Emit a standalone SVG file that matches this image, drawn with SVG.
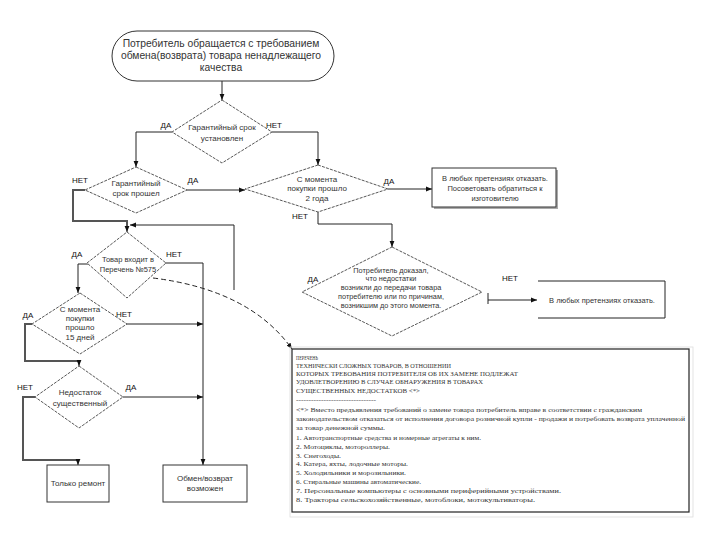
<svg xmlns="http://www.w3.org/2000/svg" width="720" height="540" viewBox="0 0 720 540">
<defs>
<marker id="ah" viewBox="0 0 10 10" refX="10" refY="5" markerWidth="6" markerHeight="6" markerUnits="userSpaceOnUse" orient="auto"><path d="M0,1 L10,5 L0,9 z" fill="#111"/></marker>
<style>
.t{font-family:"Liberation Sans",Arial,sans-serif;font-size:8px;fill:#333;text-anchor:middle}
.tb{font-family:"Liberation Sans",Arial,sans-serif;font-size:10.3px;fill:#333;text-anchor:middle}
.lb{font-family:"Liberation Sans",Arial,sans-serif;font-size:8px;fill:#111;text-anchor:middle}
.d{fill:#fff;stroke:#444;stroke-width:0.9;stroke-dasharray:3,1.2}
.bx{fill:#fff;stroke:#333;stroke-width:1}
.c{fill:none;stroke:#222;stroke-width:1}
.ck{fill:none;stroke:#555;stroke-width:2}
.n{font-family:"Liberation Serif","Times New Roman",serif;font-size:7px;fill:#333}
</style>
</defs>
<rect width="720" height="540" fill="#fff"/>

<g id="connectors">
<path class="c" d="M222,80 V100" marker-end="url(#ah)"/>
<path class="c" d="M172,132 H136 V167" marker-end="url(#ah)"/>
<path class="c" d="M272,132 H318 V165" marker-end="url(#ah)"/>
<path class="c" d="M187,190 H245" marker-end="url(#ah)"/>
<path class="c" d="M388,189 H432" marker-end="url(#ah)"/>
<path class="c" d="M318,212 V224 H392 V247" marker-end="url(#ah)"/>
<path class="c" d="M488,293 V304"/>
<path class="c" d="M488,300 H537" marker-end="url(#ah)"/>
<path class="ck" d="M85,190 H73 V221 H127 V226"/>
<path class="c" d="M127,226 V232" marker-end="url(#ah)"/>
<path class="c" d="M234,290 V225 H130" marker-end="url(#ah)"/>
<path class="c" d="M88,264 H78 V293" marker-end="url(#ah)"/>
<path class="c" d="M165,263 H203 V465" marker-end="url(#ah)"/>
<path class="c" d="M127,324 H203" marker-end="url(#ah)"/>
<path class="ck" d="M32,324 H25 V361 H79"/>
<path class="c" d="M79,361 V366" marker-end="url(#ah)"/>
<path class="c" d="M123,397 H203" marker-end="url(#ah)"/>
<path class="ck" d="M35,397 H23 V460 H78"/>
<path class="c" d="M78,460 V465" marker-end="url(#ah)"/>
<path class="c" d="M153,278 Q250,290 292,349" stroke-dasharray="5,3" marker-end="url(#ah)"/>
</g>

<g id="labels">
<text class="lb" x="166" y="128">ДА</text>
<text class="lb" x="274" y="128">НЕТ</text>
<text class="lb" x="80" y="183">НЕТ</text>
<text class="lb" x="193" y="183">ДА</text>
<text class="lb" x="389" y="184">ДА</text>
<text class="lb" x="300" y="219">НЕТ</text>
<text class="lb" x="77" y="257">ДА</text>
<text class="lb" x="174" y="257">НЕТ</text>
<text class="lb" x="313" y="282">ДА</text>
<text class="lb" x="510" y="281">НЕТ</text>
<text class="lb" x="28" y="318">ДА</text>
<text class="lb" x="124" y="317">НЕТ</text>
<text class="lb" x="25" y="390">НЕТ</text>
<text class="lb" x="131" y="390">ДА</text>
</g>

<g id="start">
<rect x="112" y="31" width="222" height="50" rx="25" ry="25" class="bx"/>
<text class="tb" x="221" y="47">Потребитель обращается с требованием</text>
<text class="tb" x="221" y="59">обмена(возврата) товара ненадлежащего</text>
<text class="tb" x="221" y="71">качества</text>
</g>

<g id="d-warranty-set">
<polygon class="d" points="222,100 272,132 222,163 172,132"/>
<text class="t" x="222" y="130">Гарантийный срок</text>
<text class="t" x="222" y="141">установлен</text>
</g>

<g id="d-warranty-passed">
<polygon class="d" points="136,167 187,190 136,213 85,190"/>
<text class="t" x="136" y="186">Гарантийный</text>
<text class="t" x="136" y="196">срок прошел</text>
</g>

<g id="d-two-years">
<polygon class="d" points="318,165 388,189 318,212 245,189"/>
<text class="t" x="317" y="182">С момента</text>
<text class="t" x="317" y="191">покупки прошло</text>
<text class="t" x="317" y="201">2 года</text>
</g>

<g id="b-refuse-manufacturer">
<rect x="434" y="170" width="124" height="39" fill="#aaa"/>
<rect x="432" y="168" width="124" height="39" class="bx" stroke-width="0.6"/>
<text class="t" x="495" y="181" style="font-size:7.5px">В любых претензиях отказать.</text>
<text class="t" x="495" y="191" style="font-size:7.5px">Посоветовать обратиться к</text>
<text class="t" x="495" y="201" style="font-size:7.5px">изготовителю</text>
</g>

<g id="d-proved">
<polygon class="d" points="392,247 482,292 392,336 302,292"/>
<text class="t" x="391" y="273" style="font-size:7.3px">Потребитель доказал,</text>
<text class="t" x="391" y="281" style="font-size:7.3px">что недостатки</text>
<text class="t" x="391" y="290" style="font-size:7.3px">возникли до передачи товара</text>
<text class="t" x="391" y="299" style="font-size:7.3px">потребителю или по причинам,</text>
<text class="t" x="391" y="308" style="font-size:7.3px">возникшим до этого момента.</text>
</g>

<g id="b-refuse">
<path d="M538,281 H665 V318 H538" fill="none" stroke="#222" stroke-width="1"/>
<text class="t" x="602" y="303" style="font-size:7.5px">В любых претензиях отказать.</text>
</g>

<g id="d-list575">
<polygon class="d" points="127,232 166,263 127,298 87,263"/>
<text class="t" x="128" y="262" style="font-size:7.5px">Товар входит в</text>
<text class="t" x="128" y="272" style="font-size:7.5px">Перечень №575</text>
</g>

<g id="d-15days">
<polygon class="d" points="80,293 127,324 80,354 32,324"/>
<text class="t" x="80" y="312">С момента</text>
<text class="t" x="80" y="321">покупки</text>
<text class="t" x="80" y="330">прошло</text>
<text class="t" x="80" y="340">15 дней</text>
</g>

<g id="d-significant">
<polygon class="d" points="79,366 123,397 79,428 35,397"/>
<text class="t" x="80" y="395">Недостаток</text>
<text class="t" x="80" y="406">существенный</text>
</g>

<g id="b-repair">
<rect x="47" y="465" width="62" height="37" class="bx"/>
<text class="t" x="78" y="486">Только ремонт</text>
</g>

<g id="b-exchange">
<rect x="163" y="465" width="84" height="37" class="bx"/>
<text class="t" x="205" y="481">Обмен/возврат</text>
<text class="t" x="205" y="491">возможен</text>
</g>

<g id="note">
<rect x="290" y="347" width="403" height="170" fill="none" stroke="#ddd" stroke-width="0.8"/>
<rect x="292" y="349" width="397" height="163" fill="#fff" stroke="#222" stroke-width="1.2"/>
<text class="n" x="296" y="360" textLength="22" lengthAdjust="spacingAndGlyphs">ПЕРЕЧЕНЬ</text>
<text class="n" x="296" y="368" textLength="155" lengthAdjust="spacingAndGlyphs">ТЕХНИЧЕСКИ СЛОЖНЫХ ТОВАРОВ, В ОТНОШЕНИИ</text>
<text class="n" x="296" y="376" textLength="222" lengthAdjust="spacingAndGlyphs">КОТОРЫХ ТРЕБОВАНИЯ ПОТРЕБИТЕЛЯ ОБ ИХ ЗАМЕНЕ ПОДЛЕЖАТ</text>
<text class="n" x="296" y="384" textLength="187" lengthAdjust="spacingAndGlyphs">УДОВЛЕТВОРЕНИЮ В СЛУЧАЕ ОБНАРУЖЕНИЯ В ТОВАРАХ</text>
<text class="n" x="296" y="393" textLength="124" lengthAdjust="spacingAndGlyphs">СУЩЕСТВЕННЫХ НЕДОСТАТКОВ &lt;*&gt;</text>
<text class="n" x="296" y="402" textLength="80" lengthAdjust="spacingAndGlyphs">--------------------------------</text>
<text class="n" x="296" y="412" textLength="346" lengthAdjust="spacingAndGlyphs">&lt;*&gt; Вместо предъявления требований о замене товара потребитель вправе в соответствии с гражданским</text>
<text class="n" x="296" y="421" textLength="389" lengthAdjust="spacingAndGlyphs">законодательством отказаться от исполнения договора розничной купли - продажи и потребовать возврата уплаченной</text>
<text class="n" x="296" y="430" textLength="89" lengthAdjust="spacingAndGlyphs">за товар денежной суммы.</text>
<text class="n" x="296" y="440" textLength="185" lengthAdjust="spacingAndGlyphs">1. Автотранспортные средства и номерные агрегаты к ним.</text>
<text class="n" x="296" y="449" textLength="94" lengthAdjust="spacingAndGlyphs">2. Мотоциклы, мотороллеры.</text>
<text class="n" x="296" y="458" textLength="45" lengthAdjust="spacingAndGlyphs">3. Снегоходы.</text>
<text class="n" x="296" y="466" textLength="112" lengthAdjust="spacingAndGlyphs">4. Катера, яхты, лодочные моторы.</text>
<text class="n" x="296" y="475" textLength="110" lengthAdjust="spacingAndGlyphs">5. Холодильники и морозильники.</text>
<text class="n" x="296" y="484" textLength="125" lengthAdjust="spacingAndGlyphs">6. Стиральные машины автоматические.</text>
<text class="n" x="296" y="493" textLength="265" lengthAdjust="spacingAndGlyphs">7. Персональные компьютеры с основными периферийными устройствами.</text>
<text class="n" x="296" y="502" textLength="239" lengthAdjust="spacingAndGlyphs">8. Тракторы сельскохозяйственные, мотоблоки, мотокультиваторы.</text>
</g>
</svg>
